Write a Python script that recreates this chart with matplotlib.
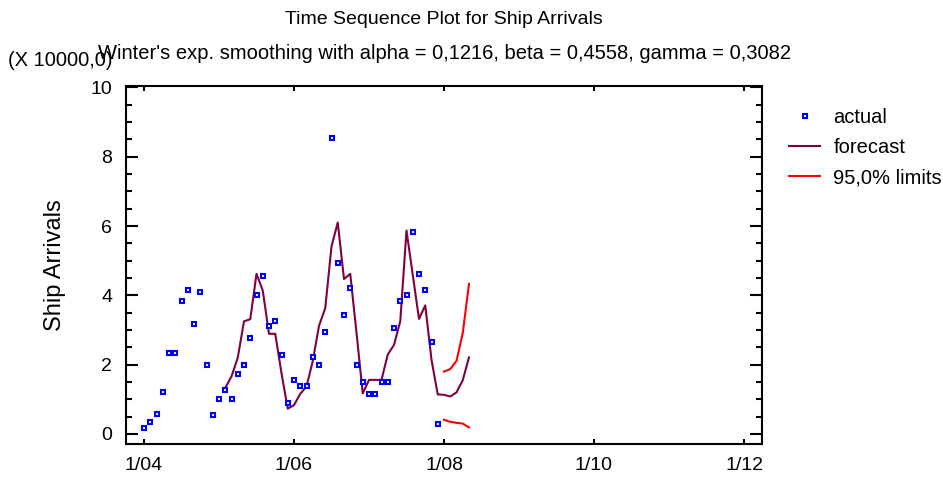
import matplotlib
matplotlib.use('Agg')
import matplotlib.pyplot as plt
from matplotlib.ticker import MultipleLocator, FixedLocator
from matplotlib.lines import Line2D

plt.rcParams['font.family'] = ['Liberation Sans', 'DejaVu Sans']

# month index: 0 = Jan 2004
actual_months = list(range(0, 48))
actual = [0.17, 0.35, 0.59, 1.20, 2.34, 2.34, 3.84, 4.15, 3.18, 4.09, 1.98, 0.54,
          1.02, 1.26, 1.02, 1.74, 1.98, 2.77, 4.02, 4.56, 3.12, 3.25, 2.29, 0.90,
          1.56, 1.38, 1.38, 2.22, 1.98, 2.94, 8.53, 4.93, 3.43, 4.21, 1.98, 1.50,
          1.14, 1.14, 1.50, 1.50, 3.06, 3.84, 4.02, 5.82, 4.62, 4.15, 2.64, 0.30]

forecast_months = list(range(13, 53))
forecast = [1.33, 1.66, 2.20, 3.25, 3.31, 4.62, 4.14, 2.89, 2.89, 1.75, 0.73,
            0.83, 1.16, 1.37, 2.10, 3.12, 3.63, 5.41, 6.10, 4.47, 4.62, 2.92, 1.17,
            1.56, 1.56, 1.56, 2.29, 2.57, 3.25, 5.87, 4.59, 3.32, 3.71, 2.14, 1.14,
            1.13, 1.08, 1.20, 1.55, 2.21]

limit_months = list(range(48, 53))
upper_limit = [1.80, 1.87, 2.11, 2.91, 4.33]
lower_limit = [0.41, 0.35, 0.32, 0.30, 0.19]

xtick_pos = [0, 24, 48, 72, 96]
xtick_labels = ['1/04', '1/06', '1/08', '1/10', '1/12']
ytick_pos = [0, 2, 4, 6, 8, 10]

W, H = 943, 479
fig = plt.figure(figsize=(W / 100, H / 100), dpi=100)
ax = fig.add_axes([126 / W, 1 - 444 / H, 636 / W, 358 / H])

fc_color = '#800040'
lim_color = '#ff0000'
act_color = '#0000ff'
ms, mew = 3.4, 1.5

ax.plot(forecast_months, forecast, color=fc_color, lw=1.5, zorder=2)
ax.plot(limit_months, upper_limit, color=lim_color, lw=1.5, zorder=2)
ax.plot(limit_months, lower_limit, color=lim_color, lw=1.5, zorder=2)
ax.plot(actual_months, actual, ls='none', marker='s', ms=ms, mfc='white',
        mec=act_color, mew=mew, zorder=3)

ax.set_xlim(-2.88, 98.88)
ax.set_ylim(-0.29, 10.04)
ax.xaxis.set_major_locator(FixedLocator(xtick_pos))
ax.set_xticklabels(xtick_labels)
ax.yaxis.set_major_locator(FixedLocator(ytick_pos))
ax.yaxis.set_minor_locator(MultipleLocator(0.5))
ax.tick_params(axis='both', which='both', direction='in', top=True, right=True,
               width=1.5, labelsize=14, colors='black')
ax.tick_params(axis='x', which='major', length=3.8, pad=9.5)
ax.tick_params(axis='y', which='major', length=8.5, pad=10)
ax.tick_params(axis='y', which='minor', length=4.3)
for s in ax.spines.values():
    s.set_linewidth(1.5)

fig.text(444 / W, 1 - 19.5 / H, 'Time Sequence Plot for Ship Arrivals', ha='center', va='center', fontsize=14)
fig.text(445 / W, 1 - 53.5 / H, "Winter's exp. smoothing with alpha = 0,1216, beta = 0,4558, gamma = 0,3082",
         ha='center', va='center', fontsize=14.5)
fig.text(8 / W, 1 - 61 / H, '(X 10000,0)', ha='left', va='center', fontsize=14.5)
fig.text(55 / W, 1 - 265 / H, 'Ship Arrivals', ha='center', va='center', rotation=90, fontsize=17)

handles = [
    Line2D([], [], ls='none', marker='s', ms=ms, mfc='white', mec=act_color, mew=mew),
    Line2D([], [], color=fc_color, lw=1.5),
    Line2D([], [], color=lim_color, lw=1.5),
]
fig.legend(handles, ['actual', 'forecast', '95,0% limits'], loc='upper left',
           bbox_to_anchor=(789 / W, 1 - 108 / H), frameon=False, fontsize=14.5,
           handlelength=1.55, handletextpad=0.65, labelspacing=0.55, borderaxespad=0,
           borderpad=0)

fig.savefig('out.png', dpi=100)
